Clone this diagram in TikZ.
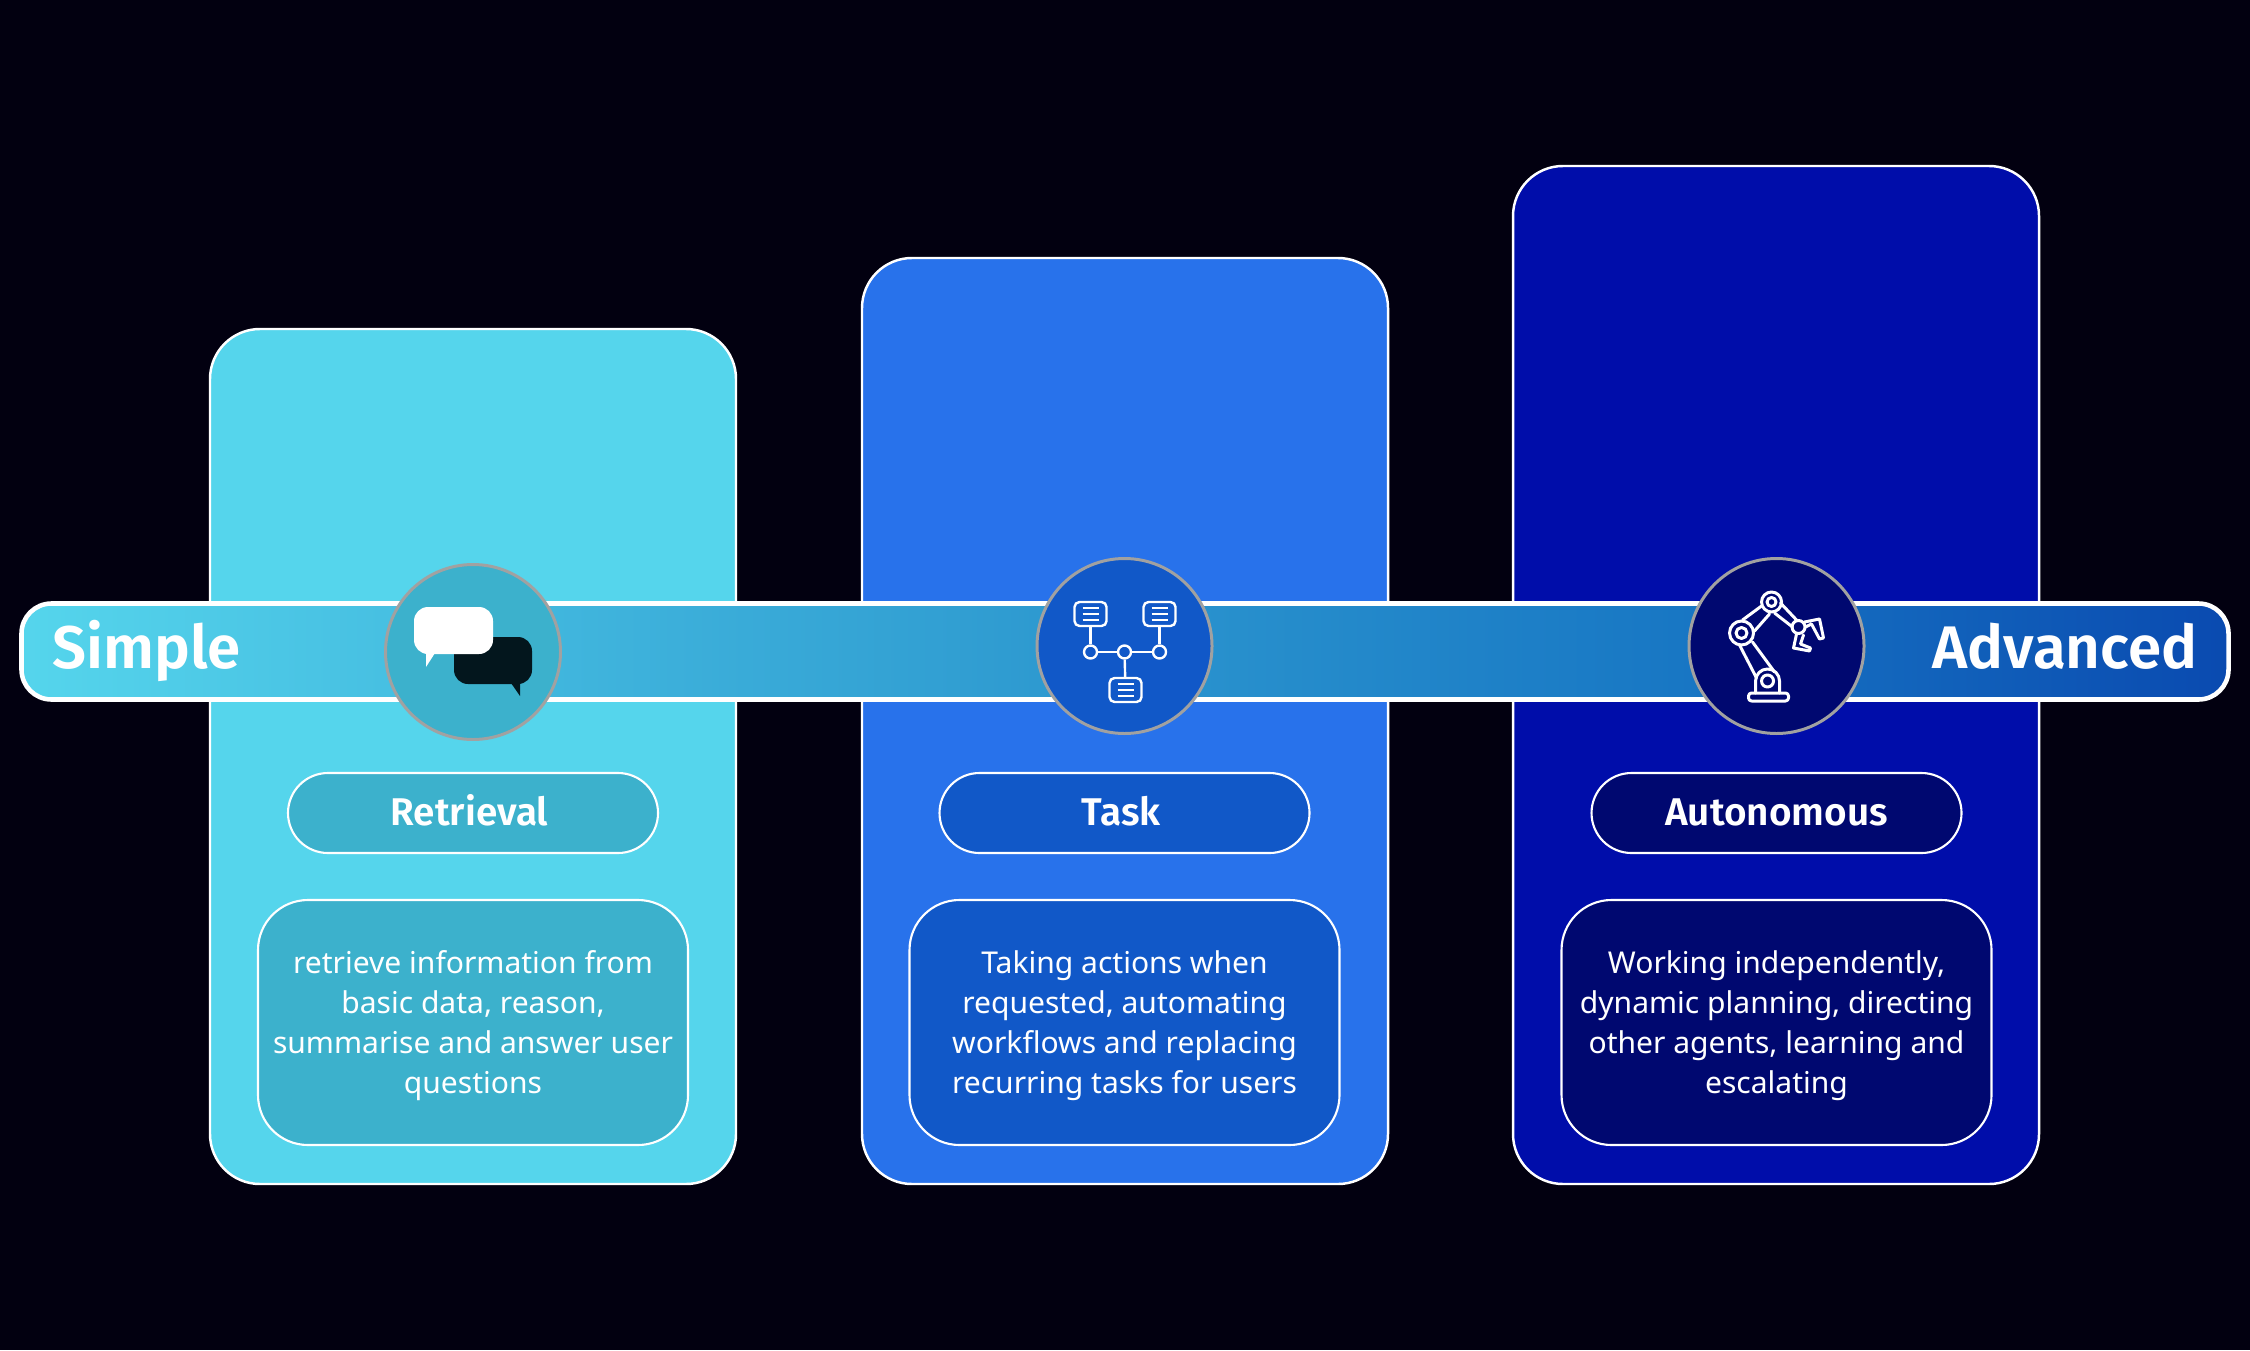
\documentclass[tikz,border=0pt]{standalone}
\usepackage{fontspec}
\setmainfont{Noto Sans}
\newfontfamily\headfont[BoldFont={Fira Sans SemiBold}]{Fira Sans}
\usetikzlibrary{positioning}

\definecolor{pagebg}{HTML}{020010}
\definecolor{simplecard}{HTML}{55D5EC}
\definecolor{simpledark}{HTML}{3CB1CC}
\definecolor{taskcard}{HTML}{2872EB}
\definecolor{taskdark}{HTML}{1158C8}
\definecolor{autocard}{HTML}{000DAA}
\definecolor{autodark}{HTML}{000870}
\definecolor{chatdark}{HTML}{03161D}
\definecolor{barmida}{HTML}{2E9AD0}
\definecolor{barmidb}{HTML}{1877C4}
\definecolor{barright}{HTML}{0A4AB0}

\pgfdeclarehorizontalshading{barfade}{100bp}{color(0bp)=(simplecard); color(25bp)=(simplecard); color(48bp)=(barmida); color(62.5bp)=(barmidb); color(75bp)=(barright); color(100bp)=(barright)}

\newcommand{\desclines}[1]{\raisebox{-.03cm}[\height][\depth]{\begin{tabular}{@{}c@{}}#1\end{tabular}}}

\tikzset{
	card/.style={draw=white, line width=.7pt, rounded corners=.5cm, minimum width=5.26cm},
	roundicon/.style={circle, draw=black!37, line width=.85pt, minimum size=1.75cm, inner sep=0pt},
	titlepill/.style={draw=white, line width=.6pt, rounded corners=.4cm, minimum width=3.7cm, minimum height=.8cm, text=white, text height=.34cm, text depth=.09cm, font=\headfont\fontsize{11}{13}\selectfont\bfseries},
	descbox/.style={draw=white, line width=.6pt, rounded corners=.5cm, minimum width=4.3cm, minimum height=2.45cm, text=white, font=\fontsize{8.55}{11.43}\selectfont},
	endlabel/.style={text=white, inner sep=0pt, font=\headfont\fontsize{17.1}{20}\selectfont\bfseries},
	iconline/.style={draw=white, line width=.68pt},
	docbox/.style={iconline, rounded corners=.05cm, minimum width=.32cm, minimum height=.24cm, inner sep=0pt},
	dot/.style={iconline, circle, minimum size=.13cm, inner sep=0pt},
	robotline/.style={draw=white, line width=.85pt, line cap=round, line join=round}
}

\begin{document}
\begin{tikzpicture}[on grid]
	\fill[pagebg] (0,0) rectangle (22.5,13.5);
	\useasboundingbox (0,0) rectangle (22.5,13.5);

	% cards
	\node (retrievalcard) [card, fill=simplecard, minimum height=8.55cm] at (4.73,5.935) {};
	\node (taskcard) [card, fill=taskcard, minimum height=9.26cm] at (11.25,6.29) {};
	\node (autocard) [card, fill=autocard, minimum height=10.18cm] at (17.76,6.75) {};

	% scale bar
	\node (scalebar) [draw=white, line width=1.3pt, rounded corners=.3cm, minimum width=22.07cm, minimum height=.96cm, shading=barfade] at (11.25,6.985) {};
	\node (simplelabel) [endlabel, anchor=base west] at (.52,6.82) {Simple};
	\node (advancedlabel) [endlabel, anchor=base east] at (21.98,6.82) {Advanced};

	% icon discs
	\node (retrievalicon) [roundicon, fill=simpledark] at (4.73,6.98) {};
	\node (taskicon) [roundicon, fill=taskdark] at (11.245,7.04) {};
	\node (autoicon) [roundicon, fill=autodark] at (17.765,7.04) {};

	\node (retrievalpill) [titlepill, fill=simpledark, below=1.61cm of retrievalicon] {Retrieval\hspace{.07cm}\null};
	\node (taskpill) [titlepill, fill=taskdark, below=1.67cm of taskicon] {Task\hspace{.07cm}\null};
	\node (autopill) [titlepill, fill=autodark, below=1.67cm of autoicon] {Autonomous};

	\node (retrievaldesc) [descbox, fill=simpledark, below=2.095cm of retrievalpill] {\desclines{retrieve information from\\ basic data, reason,\\ summarise and answer user\\ questions}};
	\node (taskdesc) [descbox, fill=taskdark, below=2.095cm of taskpill] {\desclines{Taking actions when\\ requested, automating\\ workflows and replacing\\ recurring tasks for users}};
	\node (autodesc) [descbox, fill=autodark, below=2.095cm of autopill] {\desclines{Working independently,\\ dynamic planning, directing\\ other agents, learning and\\ escalating}};

	% chat bubbles
	\begin{scope}[shift={(retrievalicon.center)}, x=.1mm, y=-.1mm]
		\fill[chatdark, rounded corners=.14cm] (-19,-15) rectangle (59,32);
		\fill[chatdark] (38,31) -- (47,44) -- (47,31) -- cycle;
		\fill[white, rounded corners=.14cm] (-59,-45) rectangle (20,2);
		\fill[white] (-47,1) -- (-47,15) -- (-38,1) -- cycle;
	\end{scope}

	% task network
	\begin{scope}[shift={(taskicon.center)}, x=.1mm, y=-.1mm]
		\node (doca) [docbox] at (-34,-32) {};
		\node (docb) [docbox] at (35,-32) {};
		\node (docc) [docbox] at (1,44) {};
		\node (dota) [dot] at (-34,6) {};
		\node (dotb) [dot] at (0,6) {};
		\node (dotc) [dot] at (35,6) {};
		\draw[iconline] (doca) -- (dota);
		\draw[iconline] (docb) -- (dotc);
		\draw[iconline] (docc) -- (dotb);
		\draw[iconline] (dota) -- (dotb);
		\draw[iconline] (dotb) -- (dotc);
		\foreach \doc in {doca,docb,docc}
			\foreach \dy in {-6,0,6}
				\draw[draw=white, line width=.55pt] (\doc.center) ++(-8,\dy) -- ++(16,0);
	\end{scope}

	% robot arm
	\begin{scope}[shift={(autoicon.center)}, x=.1mm, y=-.1mm]
		\draw[robotline, rounded corners=.03cm] (-28,47) rectangle (12,55);
		\draw[robotline] (-21,47) -- (-21,35) arc[start angle=180, end angle=360, radius=12] -- (3,47);
		\draw[robotline] (-9,35) circle (6);
		\draw[robotline] (-35,-13) circle (12);
		\draw[robotline] (-35,-13) circle (5.5);
		\draw[robotline] (-5,-44) circle (10);
		\draw[robotline] (-5,-44) circle (4.5);
		\draw[robotline] (22,-19) circle (6.5);
		\draw[robotline] (-37,-1) -- (-20,32);
		\draw[robotline] (-24,-4) -- (-2,26);
		\draw[robotline] (-34,-26) -- (-15,-40);
		\draw[robotline] (-22,-15) -- (-7,-32);
		\draw[robotline] (4,-43) -- (20,-26);
		\draw[robotline] (-2,-33) -- (16,-19);
		\draw[robotline] (28,-24) -- (43,-27) -- (47,-8) -- (43,-7) -- (35,-22) -- (29,-19);
		\draw[robotline] (20,-12) -- (17,2) -- (33,5) -- (34,2) -- (24,-2) -- (27,-11);
	\end{scope}
\end{tikzpicture}
\end{document}
